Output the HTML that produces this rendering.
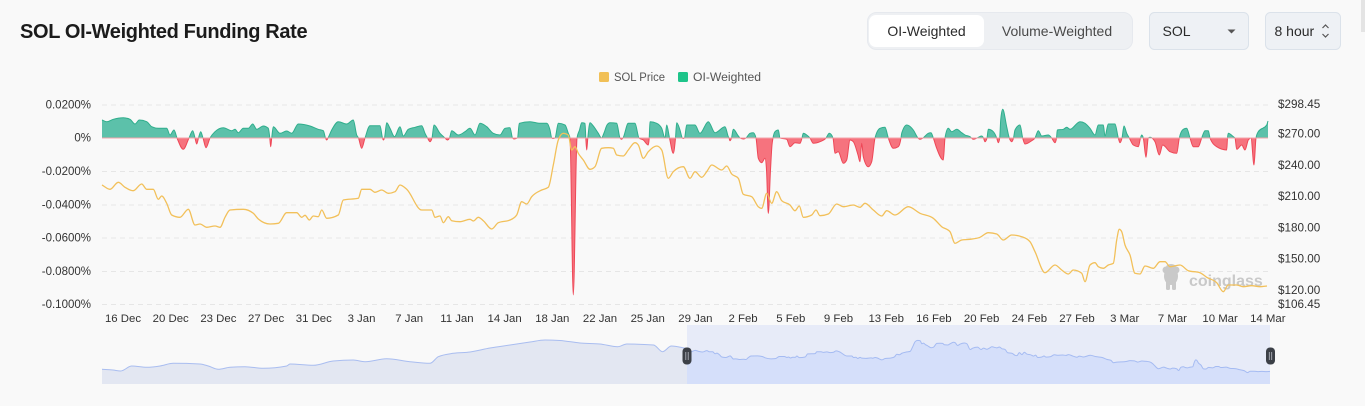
<!DOCTYPE html>
<html>
<head>
<meta charset="utf-8">
<style>
html,body{margin:0;padding:0;background:#f9f9f9;}
body{width:1365px;height:406px;overflow:hidden;position:relative;font-family:"Liberation Sans",sans-serif;}
svg{position:absolute;left:0;top:0;}
text{font-family:"Liberation Sans",sans-serif;}
</style>
</head>
<body>
<svg id="s" width="1365" height="406" viewBox="0 0 1365 406" xmlns="http://www.w3.org/2000/svg">
  <defs>
    <clipPath id="above"><rect x="0" y="0" width="1365" height="138"/></clipPath>
    <clipPath id="below"><rect x="0" y="138" width="1365" height="268"/></clipPath>
  </defs>
  <rect x="0" y="0" width="1365" height="406" fill="#f9f9f9"/>
  <rect x="1361" y="0" width="4" height="32" fill="#e4e4e4"/>

  <!-- Title -->
  <text x="20" y="38" font-size="20" font-weight="bold" fill="#1b1b1b" letter-spacing="-0.35">SOL OI-Weighted Funding Rate</text>

  <!-- Segmented control -->
  <rect x="867.5" y="12.5" width="265" height="37" rx="9" fill="#eef0f3" stroke="#e6e9ee"/>
  <rect x="869" y="15" width="115" height="32" rx="7" fill="#ffffff"/>
  <text x="926.5" y="36" font-size="14" fill="#2a2a2a" text-anchor="middle">OI-Weighted</text>
  <text x="1057" y="36" font-size="14" fill="#4a4a4a" text-anchor="middle">Volume-Weighted</text>

  <!-- SOL dropdown -->
  <rect x="1149.5" y="12.5" width="99" height="37" rx="5" fill="#eef1f5" stroke="#dbe2ea"/>
  <text x="1162.5" y="36" font-size="14" fill="#2a2a2a">SOL</text>
  <path d="M1227.5 29.5 L1235.5 29.5 L1231.5 33.5 Z" fill="#555"/>

  <!-- 8 hour -->
  <rect x="1265.5" y="12.5" width="75" height="37" rx="5" fill="#eef1f5" stroke="#dbe2ea"/>
  <text x="1274.5" y="36" font-size="14" fill="#2a2a2a">8 hour</text>
  <path d="M1322.5 28 L1325.5 25 L1328.5 28 M1322.5 34 L1325.5 37 L1328.5 34" fill="none" stroke="#555" stroke-width="1.2"/>

  <!-- Legend -->
  <rect x="599" y="72" width="10" height="10" rx="1.5" fill="#f1c057"/>
  <text x="614" y="81" font-size="11.5" fill="#555" textLength="51" lengthAdjust="spacingAndGlyphs">SOL Price</text>
  <rect x="678" y="72" width="10" height="10" rx="1.5" fill="#1ec48a"/>
  <text x="693" y="81" font-size="11.5" fill="#555" textLength="68" lengthAdjust="spacingAndGlyphs">OI-Weighted</text>

  <!-- Grid -->
  <g stroke="#e6e6e6" stroke-width="1" stroke-dasharray="5,4">
    <line x1="102" y1="105" x2="1268" y2="105"/>
    <line x1="102" y1="171.5" x2="1268" y2="171.5"/>
    <line x1="102" y1="205" x2="1268" y2="205"/>
    <line x1="102" y1="238" x2="1268" y2="238"/>
    <line x1="102" y1="271.5" x2="1268" y2="271.5"/>
    <line x1="102" y1="304.5" x2="1268" y2="304.5"/>
  </g>

  <!-- Left axis -->
  <g font-size="11.5" fill="#333" text-anchor="end">
    <text x="91" y="108.5">0.0200%</text>
    <text x="91" y="141.5">0%</text>
    <text x="91" y="175">-0.0200%</text>
    <text x="91" y="208.5">-0.0400%</text>
    <text x="91" y="241.5">-0.0600%</text>
    <text x="91" y="275">-0.0800%</text>
    <text x="91" y="308">-0.1000%</text>
  </g>
  <!-- Right axis -->
  <g font-size="11.7" fill="#333">
    <text x="1278" y="108">$298.45</text>
    <text x="1278" y="137.5">$270.00</text>
    <text x="1278" y="169">$240.00</text>
    <text x="1278" y="200">$210.00</text>
    <text x="1278" y="231.5">$180.00</text>
    <text x="1278" y="262.5">$150.00</text>
    <text x="1278" y="294">$120.00</text>
    <text x="1278" y="308">$106.45</text>
  </g>

  <!-- X axis labels -->
  <g id="xl" font-size="11.4" fill="#333" text-anchor="middle"></g>

  <!-- Watermark -->
  <g fill="#c9c9c9">
    <ellipse cx="1171" cy="276" rx="7" ry="9"/>
    <circle cx="1166" cy="270" r="3.5"/>
    <circle cx="1176" cy="270" r="3.5"/>
    <rect x="1166" y="281" width="4" height="9" rx="1.5"/>
    <rect x="1172" y="281" width="4" height="9" rx="1.5"/>
    <ellipse cx="1171" cy="267" rx="5" ry="3"/>
  </g>
  <text x="1189" y="286" font-size="16" font-weight="bold" fill="#c9c9c9">coinglass</text>

  <!-- Series -->
  <g id="series"></g>

  <!-- Slider -->
  <g id="slider"></g>
</svg>

<script>
(function(){
var NS="http://www.w3.org/2000/svg";
function el(tag,attrs,parent){var e=document.createElementNS(NS,tag);for(var k in attrs)e.setAttribute(k,attrs[k]);parent.appendChild(e);return e;}
function curve(p){
  var n=p.length; if(n<2) return "";
  var h=[],s=[],m=[];
  for(var i=0;i<n-1;i++){h[i]=p[i+1][0]-p[i][0]; if(h[i]<=0)h[i]=0.01; s[i]=(p[i+1][1]-p[i][1])/h[i];}
  m[0]=s[0]; m[n-1]=s[n-2];
  for(var i=1;i<n-1;i++){
    var s0=s[i-1],s1=s[i];
    if(s0*s1<=0){m[i]=0;}
    else{var pp=(s0*h[i]+s1*h[i-1])/(h[i-1]+h[i]);
      m[i]=(Math.sign(s0)+Math.sign(s1))*Math.min(Math.abs(s0),Math.abs(s1),0.5*Math.abs(pp));}
  }
  var d="";
  for(var i=0;i<n-1;i++){
    var dx=h[i]/3;
    d+=" C"+(p[i][0]+dx).toFixed(2)+","+(p[i][1]+m[i]*dx).toFixed(2)+" "+(p[i+1][0]-dx).toFixed(2)+","+(p[i+1][1]-m[i+1]*dx).toFixed(2)+" "+p[i+1][0].toFixed(2)+","+p[i+1][1].toFixed(2);
  }
  return d;
}
function parse(str){var a=str.trim().split(/;\s*/),r=[];for(var i=0;i<a.length;i++){if(!a[i])continue;var q=a[i].split(",");r.push([parseFloat(q[0]),parseFloat(q[1])]);}return r;}

var price=parse("102,185; 110,189.3; 118.3,182.3; 125,187.3; 133.3,190.7; 141.7,184; 146.7,189.3; 153.3,189.3; 158.3,199.3; 161.7,196; 166.7,203.3; 171.7,215; 180,217.3; 188.3,209.3; 195,225; 200,224; 206.7,227.3; 215,226; 220,227.3; 225,217.3; 230,210; 243.3,209.3; 253.3,213.3; 258.3,219; 270,224; 278.3,223.3; 286.7,212.7; 296.7,212.7; 301.7,217.3; 305,215.3; 309.3,220; 313.3,216; 318.3,216.7; 321.7,210; 326.7,218.3; 338.3,215; 343.3,200; 358.3,198.3; 361.7,189.3; 370,189.3; 375,192.3; 381.7,190; 388.3,193.3; 395,191.7; 400,185; 406.7,189.3; 421.7,210; 431.7,210; 435,217.3; 440,216; 443.3,222.7; 448.3,216.7; 451.7,220.7; 460,221.7; 470,219.3; 473.3,221; 478.3,217.3; 483.3,220.7; 491.7,229; 498.3,222.7; 510,220; 516.7,215; 521.7,201.7; 526.7,204; 531.7,196.7; 541.7,190; 548.3,187.3; 553.3,165; 558.3,140; 563.3,133.3; 568.3,135; 571.7,150; 575,146.7; 578.3,153.3; 583.3,160; 590,169.3; 595,166.7; 601.7,148.3; 608.3,147.7; 613.3,148.3; 616.7,155; 623.3,156; 628.3,150; 635,142.7; 638.3,145; 643.3,158.3; 648.3,151.7; 656.7,146; 661.7,150; 668.3,178.3; 673.3,171.7; 683.3,166.7; 690,178.3; 695,171.7; 701.7,177.3; 706.7,171.7; 711.7,165; 721.7,170; 726.7,166; 731.7,174; 738.3,178.3; 743.3,194.3; 751.7,196.7; 758.3,206.7; 761.7,208.3; 766.7,193.3; 771.7,203.3; 776.7,191.7; 781.7,200.7; 790,205; 795,210.7; 799.3,206; 803.3,217.3; 811.7,215; 816,210; 820,215.7; 828.3,214; 836.7,204; 843.3,206.7; 853.3,205; 860,207.3; 865,203.3; 873.3,210; 881.7,216; 886.7,210.7; 895,215; 908.3,206.7; 920,213.3; 933.3,218.3; 941.7,226.7; 950,231.7; 955,243.3; 961.7,240; 970,239.3; 980,237.3; 988.3,232.7; 996.7,234; 1003.3,240; 1011.7,235; 1021.7,236.7; 1030,241.7; 1035,251.7; 1045,272.7; 1055,265; 1061.7,270; 1068.3,274; 1073.3,270; 1081.7,273.3; 1085,281.7; 1090,265; 1095,262.7; 1098.3,266.7; 1103.3,268.3; 1108.3,265; 1113.3,263.3; 1116.7,240; 1119.3,229.3; 1121.7,231.7; 1125,245; 1130,255; 1135,273.3; 1140,274; 1145,266; 1153.3,268.3; 1160,261.7; 1165,261.7; 1170,266.7; 1180,265; 1188.3,270.7; 1200,272.7; 1206.7,277.3; 1216.7,282.7; 1223.3,291.7; 1228.3,285; 1236.7,285; 1243.3,286.7; 1251.7,285.7; 1260,286.7; 1267,286");

var fund=parse("102,120; 106.7,121.7; 113.3,119.3; 123.3,117.7; 130,119.3; 135,124; 139.3,120; 146.7,121.7; 151.7,126.7; 158.3,128.3; 166.7,128.3; 170,135; 174,130; 177,138; 183.3,149.3; 189,138; 192.7,130.7; 195,138; 196.7,144; 198.5,138; 200.7,131.7; 203,138; 206,147.7; 210,138; 215,131.7; 223.3,127.7; 231.7,130.7; 235,129.3; 238.3,132.7; 243.3,128.3; 248.3,128.3; 252.7,124; 256.7,129.3; 263.3,126; 268.3,128.3; 269.8,138; 270.7,146.7; 271.7,138; 273.3,126.7; 280,133.3; 286.7,131; 291.7,133.3; 298.3,124; 310,126; 318.3,129.3; 323.3,130.7; 325.5,138; 326.7,140; 328,138; 331.7,130; 338.3,121.7; 346.7,124; 353.3,120; 356.7,135; 358.5,138; 361.7,148.3; 365,138; 370,125.7; 380,125.7; 382.5,138; 383.3,140; 384.5,138; 386.7,122.7; 390,128.3; 394.5,136.7; 400,126.7; 403.3,136; 408.3,129.3; 415,127.3; 421.7,125.7; 425,133.3; 427.5,138; 430,141.7; 432,138; 434,125; 440,133.3; 445,138; 447.3,140; 449.5,138; 451.7,130.7; 458.3,135; 465,131.7; 470,128.3; 475,135; 480,123.3; 486.7,126.7; 493.3,133.3; 500,135; 505,128.3; 510,127.7; 512.5,138; 514,139; 517.5,138; 519.3,123.3; 530,121.7; 540,123.3; 546.7,123.3; 550,130; 551.7,138; 553,138.5; 555,138; 558.3,123.3; 565,125; 568.3,133.3; 570,138; 573.3,295; 577,138; 579.5,130; 581.7,122.7; 585,123.3; 585.8,138; 586.7,150; 587.8,138; 590,122.7; 593.3,126; 598.3,133.3; 601.5,138; 604,133; 607,125; 610,122.7; 616.7,123.3; 620,138; 621.7,139.3; 623,138; 628.3,123.3; 635,123.3; 639,138; 643.3,140; 648.3,145; 649.2,138; 650,121.7; 656.7,123.3; 661.7,128.3; 665,138; 666.7,125; 669.5,138; 673.3,153.3; 675.5,138; 676.7,122.7; 680,130; 682.3,138; 683.3,138.5; 684.5,138; 686.7,125; 695,125; 700,133.3; 708.3,121.7; 715,132.7; 725,126.7; 728.3,136.7; 729,138; 730,140.7; 731.5,138; 733.3,129.3; 738.3,136; 740,138; 743.3,139; 746,138; 750,133.3; 753.3,132.7; 756,138; 758.3,158.3; 761.7,162.7; 765,158.3; 766.5,170; 768.3,213.3; 770.5,170; 772,145; 773,138; 775,131.7; 778.3,130; 780,138; 786.7,139.3; 790,146.7; 795,142.7; 800,143.3; 802,138; 803.3,133.3; 806.7,135; 810,138; 813.3,143.3; 820,141.7; 826,138; 829.3,133.3; 833,138; 835,153.3; 838.3,151.7; 843.3,163.3; 846.7,160; 850,140; 853.3,141.7; 858,155; 860,161.7; 861.7,143.3; 863.3,156.7; 868.3,166.7; 871.7,161.7; 875,138; 880,128.3; 885,127.3; 888.3,138; 893.3,148.3; 898.3,146.7; 901,138; 901.7,133.3; 906.7,125; 913.3,130; 918,138; 920,139.3; 923,138; 928.3,133.3; 931,132.7; 933.3,138; 936.7,148.3; 943.3,160; 945,138; 948.3,128.3; 951.7,131.7; 956.7,129.3; 961.7,132.7; 965,135; 970,136.7; 973.3,139.3; 977,138; 981.7,136; 983.5,138; 985,141.7; 987,138; 988.3,129.3; 993.3,131.7; 996.7,138; 998.3,142.7; 999.7,138; 1000.7,120; 1002.7,109.3; 1006.7,126.7; 1009.3,138; 1011.7,141.7; 1013.5,138; 1015,130; 1020,125; 1022.7,138; 1025,144; 1031.7,140.7; 1035,138; 1038.3,130.7; 1041.7,136; 1048.3,135; 1051.7,138; 1055,142.7; 1056.5,138; 1057.3,130; 1063.3,129.3; 1066.7,127.3; 1070,129.3; 1080,121.7; 1085,123.3; 1090,128.3; 1095,135; 1098.3,125; 1103.3,125; 1105,136; 1108.3,124; 1115,124; 1118.3,138; 1120,142.7; 1122,138; 1124,126; 1126.7,133.3; 1129.3,138; 1133.3,145; 1138.3,146.7; 1140.5,138; 1141.7,135; 1143.3,138; 1146,157.3; 1148.3,138; 1150,137.3; 1155,141.7; 1159.3,155; 1162.7,145; 1170,151.7; 1176.7,153.3; 1179.3,138; 1183.3,129.3; 1186.7,128.3; 1190,138; 1193.3,146.7; 1198.3,146.7; 1201.7,138; 1205,130.7; 1208.3,130.7; 1210,138; 1216.7,146.7; 1226.7,150; 1227.5,138; 1228.3,133.3; 1233.3,136.7; 1235,138; 1236.7,149.3; 1241.7,145; 1245,150; 1248.3,140; 1251,138; 1254,165; 1256,138; 1258.3,131.7; 1266.7,125; 1268,121");

var g=document.getElementById("series");
var fc=curve(fund);
var area="M"+fund[0][0]+",138 L"+fund[0][0]+","+fund[0][1]+fc+" L"+fund[fund.length-1][0]+",138 Z";
var line="M"+fund[0][0]+","+fund[0][1]+fc;
el("path",{d:area,fill:"#5cc1aa","clip-path":"url(#above)"},g);
el("path",{d:area,fill:"#f6737e","clip-path":"url(#below)"},g);
el("path",{d:line,fill:"none",stroke:"#2fae8c","stroke-width":"1","clip-path":"url(#above)"},g);
el("path",{d:line,fill:"none",stroke:"#ee4757","stroke-width":"1","clip-path":"url(#below)"},g);
el("line",{x1:102,y1:138,x2:1268,y2:138,stroke:"#f4a3aa","stroke-width":"1"},g);
el("path",{d:"M"+price[0][0]+","+price[0][1]+curve(price),fill:"none",stroke:"#f2c05a","stroke-width":"1.3","stroke-linejoin":"round"},g);

// x labels
var xl=document.getElementById("xl");
var labs=["16 Dec","20 Dec","23 Dec","27 Dec","31 Dec","3 Jan","7 Jan","11 Jan","14 Jan","18 Jan","22 Jan","25 Jan","29 Jan","2 Feb","5 Feb","9 Feb","13 Feb","16 Feb","20 Feb","24 Feb","27 Feb","3 Mar","7 Mar","10 Mar","14 Mar"];
for(var i=0;i<labs.length;i++){var t=el("text",{x:(123+47.7*i).toFixed(1),y:322},xl);t.textContent=labs[i];}

// slider
var sg=document.getElementById("slider");
var left=parse("102,369.3; 113,370; 120.7,371; 131.7,366; 146.7,367.3; 160,366; 173.3,363.3; 200,364; 208.3,366; 218.3,369.3; 230,367.3; 245,366.7; 263.3,368.3; 286.7,366; 290,364; 313.3,365.3; 333.3,361; 353.3,360; 365,361.7; 386.7,358.7; 410,361.7; 430,363.3; 438.3,356.7; 453.3,353.3; 470,352; 490,348; 510,345; 530,342; 545,340; 560,340.5; 580,343; 600,344; 617.9,346.7; 626.8,344; 653.6,345; 662.5,351.7; 671.4,346; 687,348.5");
var right=[[687,348.5]];
for(var i=1;i<price.length;i++){right.push([687+(price[i][0]-102)*0.5, 334.6+(price[i][1]-105)*0.2035]);}
right[right.length-1][0]=1270;
el("rect",{x:687,y:325,width:583,height:59,fill:"#e7ebf8"},sg);
var lp="M102,384 L"+left[0][0]+","+left[0][1]+curve(left)+" L687,384 Z";
el("path",{d:lp,fill:"#e3e7f2"},sg);
var rp="M687,384 L"+right[0][0]+","+right[0][1]+curve(right)+" L1270,384 Z";
el("path",{d:rp,fill:"#d5dffa"},sg);
el("path",{d:"M"+left[0][0]+","+left[0][1]+curve(left),fill:"none",stroke:"#a9bdf0","stroke-width":"1"},sg);
el("path",{d:"M"+right[0][0]+","+right[0][1]+curve(right),fill:"none",stroke:"#a5bbf2","stroke-width":"1"},sg);
[687,1270.5].forEach(function(cx){
  el("rect",{x:cx-4.5,y:347.5,width:9,height:17,rx:4,fill:"#3c4047"},sg);
  el("line",{x1:cx-1.2,y1:352,x2:cx-1.2,y2:360,stroke:"#b8bcc4","stroke-width":"0.8"},sg);
  el("line",{x1:cx+1.2,y1:352,x2:cx+1.2,y2:360,stroke:"#b8bcc4","stroke-width":"0.8"},sg);
});
})();
</script>
</body>
</html>
